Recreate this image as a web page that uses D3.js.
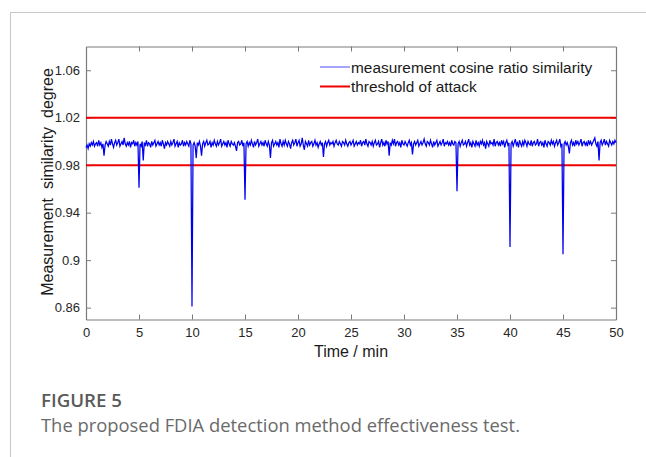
<!DOCTYPE html>
<html>
<head>
<meta charset="utf-8">
<script src="https://cdn.jsdelivr.net/npm/d3@7"></script>
<style>
  html, body { margin: 0; padding: 0; background: #fff; }
  svg { display: block; }
</style>
</head>
<body>
<svg id="chart" width="646" height="457"></svg>
<script>
// ---- data ----
const timeStart = 0;
const timeStep = 0.1; // minutes between samples
const similarity = [
  0.995,0.997,0.994,0.998,0.996,0.999,0.997,1.000,0.996,0.998,
  0.999,0.996,1.001,0.997,0.999,0.995,0.998,0.988,0.997,1.000,
  0.998,0.996,1.000,0.997,1.002,0.998,0.995,0.999,1.001,0.997,
  0.999,1.002,0.996,0.998,1.000,0.997,1.003,0.998,0.996,0.999,
  0.997,1.000,0.995,0.999,0.998,1.001,0.996,0.999,0.997,1.000,
  0.961,0.998,0.996,1.000,0.984,0.999,0.997,1.001,0.996,0.999,
  0.998,0.995,1.000,0.997,0.999,1.001,0.996,0.998,1.000,0.997,
  0.999,0.996,1.001,0.998,0.994,0.999,0.997,1.000,0.998,0.996,
  1.000,0.997,0.999,1.002,0.996,0.998,1.000,0.995,0.999,0.997,
  0.998,1.001,0.996,0.999,0.997,1.000,0.998,0.996,1.001,0.998,
  0.861,0.997,0.999,0.996,0.986,0.999,0.997,1.000,0.996,0.988,
  0.998,1.000,0.996,0.999,1.001,0.997,0.998,1.000,0.995,0.999,
  0.997,1.001,0.998,0.996,1.000,0.997,0.999,1.002,0.996,0.998,
  1.000,0.997,0.999,0.995,1.001,0.998,0.996,1.000,0.998,0.997,
  0.999,0.996,0.992,0.999,1.000,0.997,0.998,1.001,0.996,0.999,
  0.951,0.998,1.000,0.996,0.999,0.997,1.001,0.998,0.995,1.000,
  0.997,0.999,1.002,0.996,0.998,1.000,0.997,0.999,0.996,1.001,
  0.998,0.996,1.000,0.997,0.986,0.999,1.001,0.996,0.998,1.000,
  0.997,0.999,0.995,1.002,0.998,0.996,1.000,0.997,1.001,0.998,
  0.996,1.000,0.998,0.994,0.999,1.001,0.997,0.999,1.002,0.996,
  0.999,1.001,0.996,0.998,1.003,0.997,0.993,1.000,0.998,0.996,
  1.001,0.997,0.999,1.000,0.996,0.998,1.001,0.997,0.999,0.995,
  0.998,1.000,0.997,0.999,0.987,0.998,1.000,0.996,0.999,1.001,
  0.997,0.999,0.998,1.000,0.996,0.999,1.001,0.998,0.997,1.000,
  0.998,0.996,1.000,0.999,0.997,1.001,0.998,0.996,0.999,1.000,
  0.997,0.999,1.001,0.996,0.998,1.000,0.997,0.999,0.998,1.001,
  0.996,0.999,1.000,0.997,1.002,0.998,0.996,1.000,0.999,0.997,
  1.000,0.996,0.999,1.001,0.997,0.998,1.000,0.995,0.999,1.002,
  0.997,0.999,0.996,1.001,0.998,1.000,0.988,0.999,0.997,1.001,
  0.998,1.002,0.996,0.999,1.000,0.997,0.999,0.995,1.001,0.998,
  0.997,1.000,0.998,0.996,0.999,1.001,0.997,0.999,0.989,0.998,
  1.000,0.997,0.999,1.001,0.996,0.998,1.000,0.997,0.999,1.002,
  0.998,0.996,1.000,0.999,0.997,1.001,0.998,0.995,1.000,0.997,
  0.999,1.001,0.996,0.998,1.000,0.997,0.999,1.002,0.996,0.999,
  0.998,1.000,0.997,0.999,0.996,1.001,0.998,0.997,1.000,0.999,
  0.958,0.998,1.000,0.996,0.999,1.001,0.997,0.998,1.000,0.996,
  0.999,1.002,0.997,0.999,0.995,1.000,0.998,0.996,1.001,0.997,
  0.999,0.996,1.000,0.998,1.001,0.997,0.999,0.994,1.000,0.998,
  0.996,1.001,0.998,0.999,0.997,1.002,0.996,0.999,1.000,0.997,
  0.999,0.996,1.001,0.998,1.000,0.995,0.999,1.001,0.997,0.999,
  0.911,0.998,1.000,0.996,0.999,1.002,0.997,0.999,0.995,1.001,
  0.998,0.996,1.000,0.997,1.001,0.999,0.996,1.000,0.998,0.997,
  1.001,0.996,0.999,1.000,0.997,0.998,1.002,0.996,0.999,1.000,
  0.997,0.999,0.995,1.001,0.998,0.996,1.000,0.999,0.997,1.001,
  0.998,1.000,0.996,0.999,1.001,0.997,0.999,1.002,0.996,0.998,
  0.905,0.998,1.000,0.997,0.999,0.996,0.990,0.999,1.001,0.997,
  0.999,0.996,1.001,0.998,1.000,0.997,0.999,1.002,0.996,0.999,
  1.000,0.997,0.999,0.996,1.001,0.998,1.000,0.997,0.999,1.001,
  1.003,0.998,0.996,1.000,0.984,0.999,1.001,0.997,0.999,1.002,
  0.997,1.000,0.998,0.996,1.001,0.999,0.997,1.000,0.998,1.001,
  0.999
];
const thresholds = [1.02, 0.98];
const xTicks = [0, 5, 10, 15, 20, 25, 30, 35, 40, 45, 50];
const yTicks = [0.86, 0.9, 0.94, 0.98, 1.02, 1.06];
const yTickLabels = ["0.86", "0.9", "0.94", "0.98", "1.02", "1.06"];
const xDomain = [0, 50];
const yDomain = [0.85, 1.08];
const legendLabels = ["measurement cosine ratio similarity", "threshold of attack"];
const xTitle = "Time / min";
const yTitle = "Measurement  similarity  degree";
const figLabel = "FIGURE 5";
const figCaption = "The proposed FDIA detection method effectiveness test.";

// ---- layout ----
const svg = d3.select("#chart");
const plot = { left: 86, right: 616, top: 46.5, bottom: 319.5 };
const x = d3.scaleLinear().domain(xDomain).range([plot.left, plot.right]);
const y = d3.scaleLinear().domain(yDomain).range([plot.bottom, plot.top]);
const axisColor = "#7a7a7a";
const labelColor = "#262626";
const font = "'Liberation Sans', Arial, sans-serif";

// outer page frame lines
svg.append("line").attr("x1", 10).attr("x2", 646).attr("y1", 12.5).attr("y2", 12.5)
  .attr("stroke", "#c8c8c8").attr("stroke-width", 1);
svg.append("line").attr("x1", 10.5).attr("x2", 10.5).attr("y1", 12).attr("y2", 457)
  .attr("stroke", "#c8c8c8").attr("stroke-width", 1);

// axes (inward ticks, mirrored)
function styleAxis(g) {
  g.selectAll("path.domain").attr("stroke", axisColor).attr("stroke-width", 1.2);
  g.selectAll(".tick line").attr("stroke", axisColor).attr("stroke-width", 1);
  g.selectAll(".tick text").attr("fill", labelColor).attr("font-family", font).attr("font-size", 13);
}
const xAxisB = svg.append("g").attr("transform", `translate(0,${plot.bottom})`)
  .call(d3.axisBottom(x).tickValues(xTicks).tickSizeInner(-5).tickSizeOuter(0).tickPadding(8).tickFormat(d3.format("d")));
styleAxis(xAxisB);
const xAxisT = svg.append("g").attr("transform", `translate(0,${plot.top})`)
  .call(d3.axisTop(x).tickValues(xTicks).tickSizeInner(-5).tickSizeOuter(0).tickFormat(""));
styleAxis(xAxisT);
const yAxisL = svg.append("g").attr("transform", `translate(${plot.left},0)`)
  .call(d3.axisLeft(y).tickValues(yTicks).tickSizeInner(-5).tickSizeOuter(0).tickPadding(6)
    .tickFormat((d, i) => yTickLabels[i]));
styleAxis(yAxisL);
const yAxisR = svg.append("g").attr("transform", `translate(${plot.right},0)`)
  .call(d3.axisRight(y).tickValues(yTicks).tickSizeInner(-5).tickSizeOuter(0).tickFormat(""));
styleAxis(yAxisR);

[xAxisB, xAxisT].forEach(g => g.selectAll(".tick").filter(d => d === 0 || d === 50).select("line").remove());

// threshold lines
svg.append("g").selectAll("line").data(thresholds).join("line")
  .attr("x1", x(xDomain[0])).attr("x2", x(xDomain[1]))
  .attr("y1", d => y(d)).attr("y2", d => y(d))
  .attr("stroke", "#ee0000").attr("stroke-width", 2);

// similarity series
const series = similarity.map((v, i) => [timeStart + i * timeStep, v]);
svg.append("path").datum(series)
  .attr("fill", "none").attr("stroke", "#0000f0").attr("stroke-width", 1.25)
  .attr("stroke-linejoin", "miter")
  .attr("d", d3.line().x(d => x(d[0])).y(d => y(d[1])));

// legend
const legend = svg.append("g");
const legendItems = [
  { label: legendLabels[0], color: "#4a4aff", width: 1, yPos: 67 },
  { label: legendLabels[1], color: "#ee0000", width: 2, yPos: 86.5 }
];
legendItems.forEach(it => {
  legend.append("line").attr("x1", 320).attr("x2", 350).attr("y1", it.yPos).attr("y2", it.yPos)
    .attr("stroke", it.color).attr("stroke-width", it.width);
  legend.append("text").attr("x", 351).attr("y", it.yPos + 5.5)
    .attr("font-family", font).attr("font-size", 15.4).attr("fill", "#1a1a1a").text(it.label);
});

// axis titles
svg.append("text").attr("x", (plot.left + plot.right) / 2).attr("y", 357)
  .attr("text-anchor", "middle").attr("font-family", font).attr("font-size", 16)
  .attr("fill", "#1a1a1a").text(xTitle);
svg.append("text").attr("transform", `translate(53,${(plot.top + plot.bottom) / 2 - 1}) rotate(-90)`)
  .attr("text-anchor", "middle").attr("font-family", font).attr("font-size", 16)
  .attr("fill", "#1a1a1a").attr("xml:space", "preserve").style("white-space", "pre").text(yTitle);

// caption
svg.append("text").attr("x", 41).attr("y", 407)
  .attr("font-family", "'Open Sans', sans-serif").attr("font-weight", 600).attr("font-size", 18)
  .attr("fill", "#5a5a5a").attr("textLength", 81).attr("lengthAdjust", "spacingAndGlyphs").text(figLabel);
svg.append("text").attr("x", 41).attr("y", 432)
  .attr("font-family", "'Open Sans', sans-serif").attr("font-size", 18.5)
  .attr("fill", "#6a6a6a").attr("textLength", 479).attr("lengthAdjust", "spacingAndGlyphs").text(figCaption);
</script>
</body>
</html>
